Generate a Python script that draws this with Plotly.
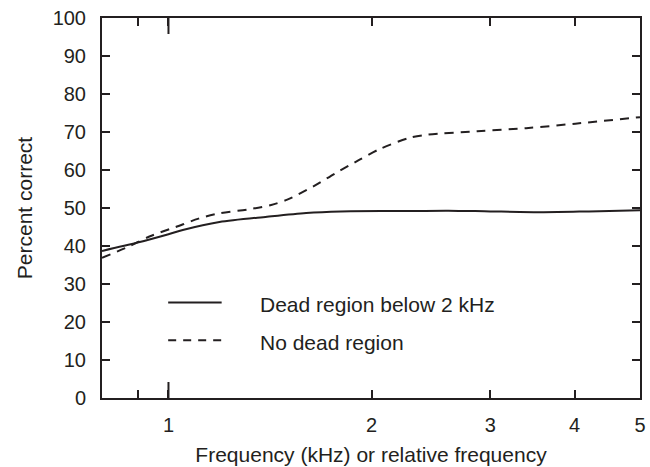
import math
import plotly.graph_objects as go

# ---- data ----
freq_dead = [0.797, 0.9, 1.0, 1.05, 1.19, 1.4, 1.6, 1.8, 2.2, 2.6, 3.0, 3.6, 4.2, 5.0]
pc_dead = [38.7, 40.9, 43.1, 44.2, 46.3, 47.7, 48.7, 49.1, 49.2, 49.3, 49.1, 48.9, 49.1, 49.4]

freq_nodead = [0.797, 0.877, 0.937, 1.025, 1.108, 1.19, 1.31, 1.42, 1.5, 1.64, 1.77, 1.92,
               2.05, 2.27, 2.42, 2.87, 3.39, 4.01, 5.0]
pc_nodead = [36.9, 40.0, 42.5, 45.0, 47.2, 48.6, 49.6, 50.8, 52.2, 55.7, 59.2, 62.7,
             65.4, 68.4, 69.3, 70.2, 71.0, 72.2, 73.9]

series_names = ["Dead region below 2 kHz", "No dead region"]
x_tickvals = [1, 2, 3, 4, 5]
x_ticktext = ["1", "2", "3", "4", "5"]
x_minor_tickvals = [0.9]
y_tickvals = list(range(0, 101, 10))
x_title = "Frequency (kHz) or relative frequency"
y_title = "Percent correct"

# ---- style ----
INK = "#231f20"
FONT = "Liberation Sans, Arial, Helvetica, sans-serif"
X_MIN, X_MAX = 0.797, 5.0
LOG_MIN, LOG_MAX = math.log10(X_MIN), math.log10(X_MAX)

fig = go.Figure()
fig.add_trace(go.Scatter(
    x=freq_dead, y=pc_dead, mode="lines", name=series_names[0],
    line=dict(color=INK, width=2, shape="spline", smoothing=0.8),
    showlegend=False, cliponaxis=True))
fig.add_trace(go.Scatter(
    x=freq_nodead, y=pc_nodead, mode="lines", name=series_names[1],
    line=dict(color=INK, width=2, dash="9px,7px", shape="spline", smoothing=0.8),
    showlegend=False, cliponaxis=True))

# custom legend (line samples + labels) in paper coordinates
leg_x0, leg_x1, leg_text_x = 0.123, 0.2224, 0.2904
leg_rows = [0.2513, 0.1518]
leg_dash = ["solid", "8px,7px"]
shapes = []
annotations = []
for name, ry, dash in zip(series_names, leg_rows, leg_dash):
    shapes.append(dict(type="line", xref="paper", yref="paper",
                       x0=leg_x0, x1=leg_x1, y0=ry, y1=ry,
                       line=dict(color=INK, width=2, dash=dash)))
    annotations.append(dict(xref="paper", yref="paper", x=leg_text_x, y=ry - 0.006,
                            xanchor="left", yanchor="middle", text=name,
                            showarrow=False, font=dict(family=FONT, size=21, color=INK)))

# longer major tick at 1 kHz (bottom and top)
px1 = (math.log10(1) - LOG_MIN) / (LOG_MAX - LOG_MIN)
for anchor, sign in [(0, 1), (1, -1)]:
    shapes.append(dict(type="line", xref="paper", yref="paper",
                       ysizemode="pixel", yanchor=anchor,
                       x0=px1, x1=px1, y0=0, y1=sign * 16,
                       line=dict(color=INK, width=2)))

fig.update_layout(
    width=650, height=467,
    margin=dict(l=102, r=4, t=18, b=67),
    paper_bgcolor="white", plot_bgcolor="white",
    font=dict(family=FONT, size=20, color=INK),
    shapes=shapes, annotations=annotations,
    showlegend=False,
)
fig.update_xaxes(
    type="log", range=[LOG_MIN, LOG_MAX],
    tickmode="array", tickvals=x_tickvals, ticktext=x_ticktext,
    ticks="inside", ticklen=8, tickwidth=2, tickcolor=INK,
    minor=dict(tickmode="array", tickvals=x_minor_tickvals, ticks="inside",
               ticklen=8, tickwidth=2, tickcolor=INK),
    showline=True, linecolor=INK, linewidth=2, mirror="ticks",
    showgrid=False, zeroline=False,
    tickfont=dict(family=FONT, size=20, color=INK),
    ticklabelstandoff=8,
    title=dict(text=x_title, font=dict(family=FONT, size=21, color=INK), standoff=12),
)
fig.update_yaxes(
    range=[0, 100], tickmode="array", tickvals=y_tickvals,
    ticks="inside", ticklen=8, tickwidth=2, tickcolor=INK,
    showline=True, linecolor=INK, linewidth=2, mirror="ticks",
    showgrid=False, zeroline=False,
    tickfont=dict(family=FONT, size=20, color=INK),
    ticklabelstandoff=10,
    title=dict(text=y_title, font=dict(family=FONT, size=21, color=INK), standoff=14),
)

fig.write_html("out.html")
